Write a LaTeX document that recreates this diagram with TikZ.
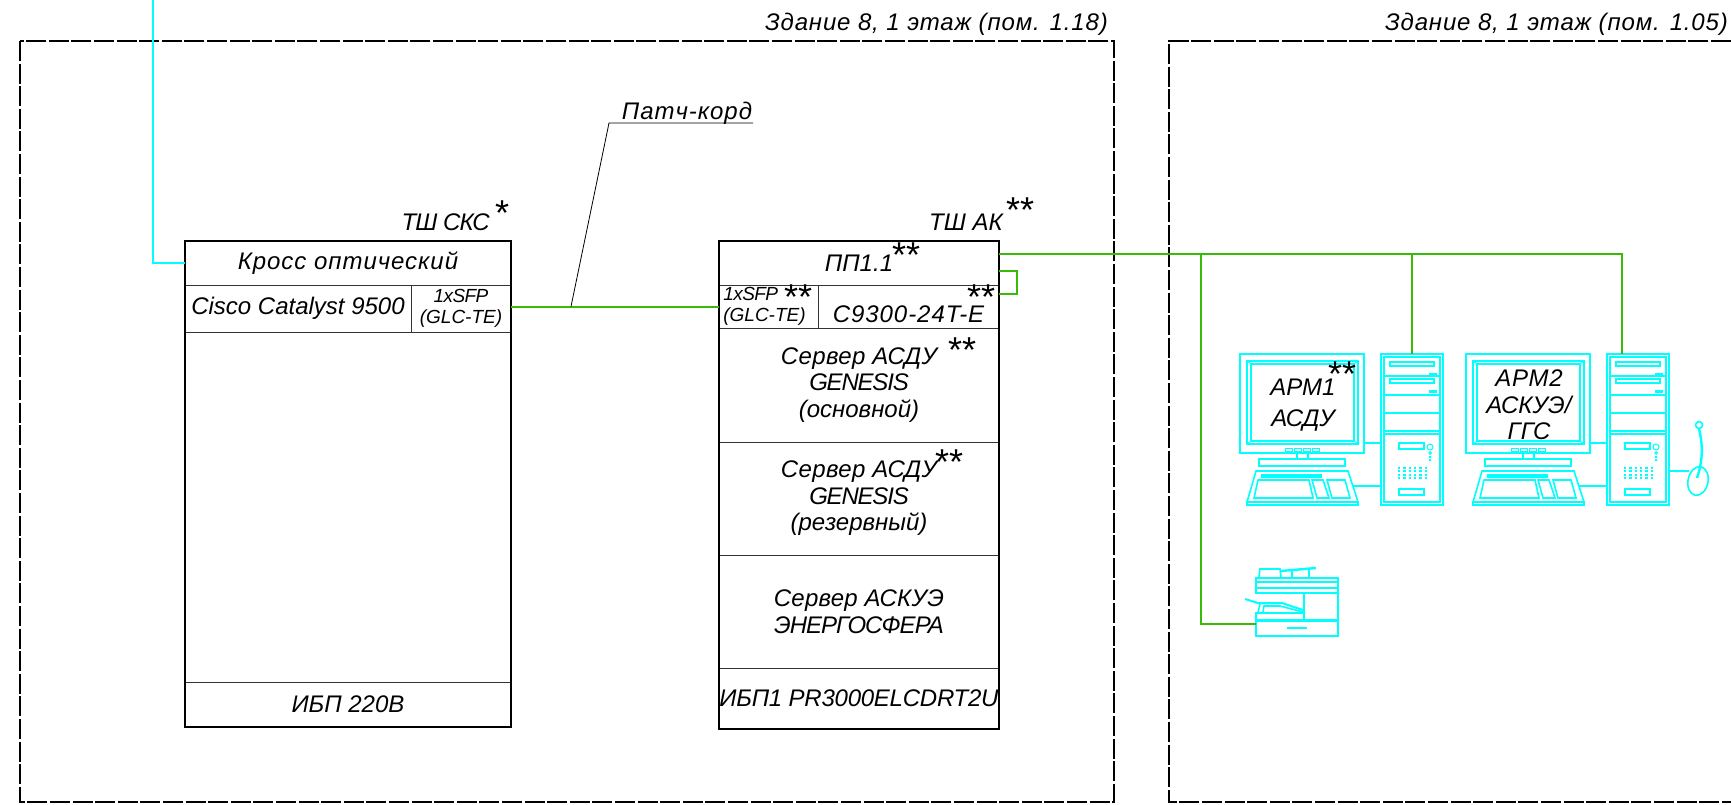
\documentclass[tikz,border=0pt]{standalone}
\usepackage{fontspec}
\usetikzlibrary{shapes.geometric}
\setmainfont{Liberation Sans}
\definecolor{cadcyan}{RGB}{0,255,255}
\definecolor{cadgreen}{RGB}{58,186,8}
\newcommand{\ls}[2]{{\addfontfeature{LetterSpace=#1}#2}}
\tikzset{
    zone/.style={line width=1.7pt, dash pattern=on 20pt off 2.6pt},
    cell/.style={draw=black!80, line width=1pt, inner sep=0pt, outer sep=0pt, align=center, font=\fontsize{24}{26.5}\selectfont\itshape},
    small cell/.style={cell, font=\fontsize{19}{21}\selectfont\itshape},
    shell/.style={line width=2.2pt},
    link/.style={draw=cadgreen, line width=2pt},
    optic/.style={draw=cadcyan, line width=2.4pt},
    icon/.style={draw=cadcyan, line width=1.6pt},
    iconbox/.style={icon, inner sep=0pt, outer sep=0pt},
    label/.style={inner sep=0pt, align=center, font=\fontsize{24}{26.5}\selectfont\itshape},
    stars/.style={inner sep=0pt, yshift=-4pt, font=\fontsize{36}{36}\selectfont},
}
\begin{document}
\begin{tikzpicture}[x=1pt, y=-1pt]
    \useasboundingbox (0, 0) rectangle (1731, 804);

    % rooms
    \draw[zone] (20, 41) rectangle (1114, 802);
    \draw[zone] (1731, 41) -- (1169, 41) -- (1169, 802) -- (1731, 802);
    \node[label, anchor=east] (rooma) at (1108, 24) {\ls{3.5}{Здание 8, 1 этаж (пом. 1.18)}};
    \node[label, anchor=east] (roomb) at (1728, 24) {\ls{3.5}{Здание 8, 1 этаж (пом. 1.05)}};

    % cabinet SKS
    \node[cell, minimum width=326, minimum height=44] (kross) at (348, 263) {\ls{4}{Кросс оптический}};
    \node[cell, minimum width=226, minimum height=47] (cisco) at (298, 308.5) {Cisco Catalyst 9500};
    \node[small cell, minimum width=100, minimum height=47] (sfpa) at (461, 308.5) {\ls{-3}{1xSFP}\\(GLC-TE)};
    \node[cell, minimum width=326, minimum height=45] (upsa) at (348, 704.5) {ИБП 220В};
    \draw[shell] (kross.north west) rectangle (upsa.south east);
    \node[label, anchor=east] (titlea) at (490, 222) {\ls{-4}{ТШ СКС}};
    \node[stars] (staa) at (502, 209) {*};

    % cabinet AK
    \node[cell, minimum width=280, minimum height=44] (pp) at (859, 263) {ПП1.1};
    \node[small cell, minimum width=99, minimum height=43, align=left] (sfpb) at (768.5, 306.5) {\ls{-3}{1xSFP}\\(GLC-TE)\hspace*{8pt}};
    \node[cell, minimum width=181, minimum height=43] (swi) at (908.5, 306.5) {\raisebox{-15.5pt}[0pt][0pt]{\ls{4}{C9300-24T-E}}};
    \node[cell, minimum width=280, minimum height=114] (srva) at (859, 385) {\ls{1.5}{Сервер АСДУ}\\\ls{-5}{GENESIS}\\(основной)};
    \node[cell, minimum width=280, minimum height=113] (srvb) at (859, 498.5) {\ls{1.5}{Сервер АСДУ}\\\ls{-5}{GENESIS}\\(резервный)};
    \node[cell, minimum width=280, minimum height=113] (srvc) at (859, 611.5) {\ls{1}{Сервер АСКУЭ}\\\ls{-4}{ЭНЕРГОСФЕРА}};
    \node[cell, minimum width=280, minimum height=61] (upsb) at (859, 698.5) {\ls{-1}{ИБП1 PR3000ELCDRT2U}};
    \draw[shell] (pp.north west) rectangle (upsb.south east);
    \node[label, anchor=east] (titleb) at (1003, 222) {ТШ АК};
    \node[stars] (stab) at (1020, 206) {**};
    \node[stars] (stac) at (906, 251) {**};
    \node[stars] (stad) at (798, 293) {**};
    \node[stars] (stae) at (981, 293) {**};
    \node[stars] (staf) at (962, 346) {**};
    \node[stars] (stag) at (949, 458) {**};

    % workstations
    \foreach \dx/\n in {0/a, 226/b} {
        \begin{scope}[shift={(\dx, 0)}]
            % monitor
            \node[iconbox, minimum width=124, minimum height=99] (mon\n) at (1302, 403.5) {};
            \draw[icon] (1247, 361) rectangle (1358, 444);
            \draw[icon] (1251, 364) rectangle (1354, 441);
            \draw[icon, line width=1pt] (1247, 361) -- (1251, 364) (1358, 361) -- (1354, 364) (1247, 444) -- (1251, 441) (1358, 444) -- (1354, 441);
            \foreach \bx in {1285, 1294, 1303, 1312}
                \draw[icon, line width=1pt] (\bx, 448) rectangle ++(7, 3);
            \draw[icon] (1297, 453) -- (1297, 459) (1308, 453) -- (1308, 459);
            \draw[icon] (1259, 459) rectangle (1345, 466);
            % keyboard
            \node[iconbox, minimum width=111, minimum height=3] (kbd\n) at (1302.5, 503.5) {};
            \draw[icon] (1247, 502) -- (1256, 471) -- (1348, 471) -- (1358, 502);
            \fill[cadcyan] (1261, 474) rectangle (1322, 478);
            \draw[icon] (1258, 480) -- (1309, 480) -- (1313, 498) -- (1254, 498) -- cycle;
            \draw[icon] (1312, 480) -- (1323, 480) -- (1329, 498) -- (1317, 498) -- cycle;
            \draw[icon] (1327, 480) -- (1345, 480) -- (1350, 498) -- (1332, 498) -- cycle;
            % tower
            \node[iconbox, minimum width=62, minimum height=151] (tow\n) at (1412, 429.5) {};
            \draw[icon] (1384, 357) rectangle (1440, 502);
            \foreach \ly in {376, 395, 413, 431, 434}
                \draw[icon] (1384, \ly) -- (1440, \ly);
            \foreach \ly in {362, 379} {
                \draw[icon] (1390, \ly) rectangle (1434, \ly+4);
                \fill[cadcyan] (1429, \ly+11) rectangle (1437, \ly+14);
            }
            \draw[icon] (1399, 443) rectangle (1424, 449);
            \draw[icon, line width=1pt] (1430, 447) circle (3);
            \draw[icon, line width=1pt] (1430, 453) circle (1.3);
            \fill[cadcyan] (1429, 456) rectangle (1431, 458) (1429, 459) rectangle (1431, 461);
            \foreach \gx in {0, 1, ..., 5}
                \foreach \gy in {0, 1, 2, 3}
                    \fill[cadcyan] (1398+\gx*5.3, 467+\gy*3.3) rectangle ++(2.4, 2);
            \draw[icon] (1399, 489) rectangle (1424, 495);
            % cables to the tower
            \coordinate (monout\n) at (1364, 443);
            \coordinate (kbdout\n) at (1353, 486);
            \draw[icon] (monout\n) -- (monout\n -| tow\n.west);
            \draw[icon] (kbdout\n) -- (kbdout\n -| tow\n.west);
        \end{scope}
    }
    \node[label] (arma) at (1303, 405) {АРМ1\\[4pt]АСДУ};
    \node[stars] (stah) at (1342, 370) {**};
    \node[label] (armb) at (1529, 405) {\ls{3}{АРМ2}\\АСКУЭ/\\ГГС};

    % mouse
    \node[iconbox, ellipse, draw, minimum width=20, minimum height=29, rotate=-12] (mouse) at (1698, 481) {};
    \draw[icon] (towb.east |- 0, 471) -- (1689, 471);
    \draw[icon, line width=2.4pt] (1697, 478) .. controls (1703, 460) and (1703, 445) .. (1699, 429);
    \draw[icon] (1699, 425) circle (3.5);

    % printer
    \node[iconbox, minimum width=82, minimum height=15] (printer) at (1297, 628.5) {};
    \draw[icon] (1259, 577) -- (1260, 569) -- (1280, 569) -- (1281, 577);
    \draw[icon, line width=2.4pt] (1281, 571) -- (1316, 568);
    \draw[icon] (1309, 570) -- (1309, 577) (1292, 570) -- (1292, 577);
    \draw[icon] (1256, 578) rectangle (1338, 593);
    \draw[icon, line width=2.4pt] (1256, 582) -- (1338, 582);
    \draw[icon] (1256, 588) -- (1338, 588);
    \draw[icon] (1304, 593) rectangle (1338, 620);
    \draw[icon] (1256, 613) rectangle (1304, 620);
    \draw[icon, line width=2.4pt] (1287, 628) -- (1307, 628);
    \draw[icon, line width=2pt] (1245, 599) -- (1258, 603) -- (1282, 603) -- (1303, 610);
    \draw[icon] (1258, 612) -- (1260, 604) (1263, 612) -- (1264, 606) -- (1280, 606) -- (1303, 612);

    % optical feed
    \coordinate (feed) at (153, 0);
    \draw[optic] (feed) |- (kross.west);

    % copper links
    \draw[link] (sfpb.west) -- (sfpb.west -| sfpa.east);
    \coordinate (ppout) at ([yshift=9pt]pp.east);
    \draw[link] (ppout) -| ([xshift=-16pt]towb.north);
    \draw[link] (ppout -| towa.north) -- (towa.north);
    \draw[link] ([yshift=5pt]printer.west) -| (ppout -| 1201, 0);
    \draw[link] ([yshift=-8pt]pp.east) -- ++(18, 0) |- ([yshift=12.5pt]swi.east);

    % patch cord callout
    \coordinate (patchtip) at (sfpb.west -| 571, 0);
    \coordinate (patchknee) at (609, 123);
    \node[label, anchor=south] (patch) at (687, 125) {\ls{4}{Патч-корд}};
    \draw[line width=0.8pt] (patchtip) -- (patchknee) -- (753, 123);
\end{tikzpicture}
\end{document}
